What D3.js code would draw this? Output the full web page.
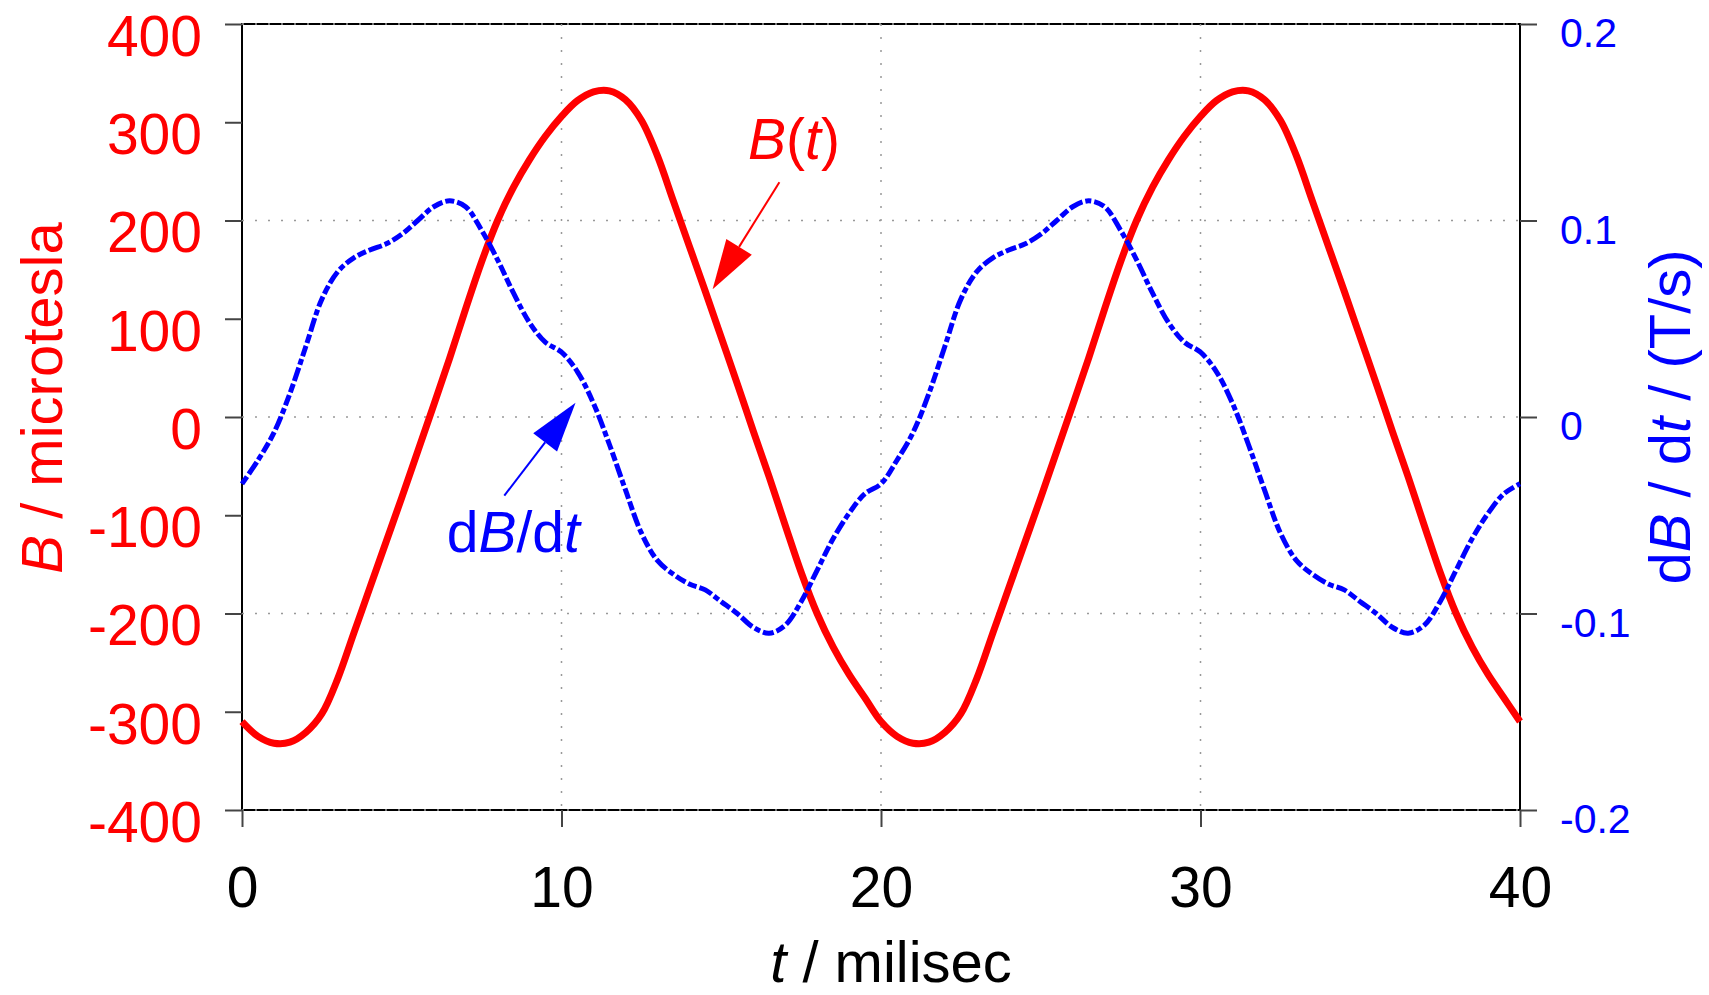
<!DOCTYPE html>
<html>
<head>
<meta charset="utf-8">
<script src="https://cdn.jsdelivr.net/npm/d3@7"></script>
<style>
body { margin: 0; background: #fff; }
text { font-family: "Liberation Sans", Arial, Helvetica, sans-serif; }
</style>
</head>
<body>
<script>
var width = 1709;
var height = 995;

var padding = { top: 24, right: 189, bottom: 185, left: 242 };
var plotW = width - padding.left - padding.right;
var plotH = height - padding.top - padding.bottom;

// time in milliseconds
var time = [
    0, 0.5, 1, 1.5, 2, 2.5, 3, 3.5, 4, 4.5, 5, 5.5, 6, 6.5, 7, 7.5, 8, 8.5, 9, 9.5,
    10, 10.5, 11, 11.5, 12, 12.5, 13, 13.5, 14, 14.5, 15, 15.5, 16, 16.5, 17, 17.5, 18, 18.5, 19, 19.5,
    20, 20.5, 21, 21.5, 22, 22.5, 23, 23.5, 24, 24.5, 25, 25.5, 26, 26.5, 27, 27.5, 28, 28.5, 29, 29.5,
    30, 30.5, 31, 31.5, 32, 32.5, 33, 33.5, 34, 34.5, 35, 35.5, 36, 36.5, 37, 37.5, 38, 38.5, 39, 39.5,
    40
];

// B(t) in microtesla
var fieldB = [
    -310, -325, -332, -331, -321, -302, -266, -220, -174, -128, -82, -35, 12, 60, 110, 158, 200, 234, 262, 286,
    306, 322, 331, 332, 323, 302, 266, 220, 174, 128, 81, 34, -14, -61, -110, -158, -200, -234, -262, -286,
    -310, -325, -332, -331, -321, -302, -266, -220, -174, -128, -82, -35, 12, 60, 110, 158, 200, 234, 262, 286,
    306, 322, 331, 332, 323, 302, 266, 220, 174, 128, 81, 34, -14, -61, -110, -158, -200, -234, -262, -286,
    -310
];

// dB/dt in T/s
var dBdt = [
    -0.034, -0.022, -0.008, 0.012, 0.036, 0.060, 0.074, 0.081, 0.085, 0.088, 0.093, 0.100, 0.107, 0.110, 0.107, 0.095, 0.080, 0.063, 0.048, 0.038,
    0.033, 0.023, 0.007, -0.014, -0.037, -0.059, -0.073, -0.080, -0.085, -0.088, -0.094, -0.100, -0.107, -0.110, -0.106, -0.094, -0.078, -0.062, -0.049, -0.039,
    -0.034, -0.022, -0.008, 0.012, 0.036, 0.060, 0.074, 0.081, 0.085, 0.088, 0.093, 0.100, 0.107, 0.110, 0.107, 0.095, 0.080, 0.063, 0.048, 0.038,
    0.033, 0.023, 0.007, -0.014, -0.037, -0.059, -0.073, -0.080, -0.085, -0.088, -0.094, -0.100, -0.107, -0.110, -0.106, -0.094, -0.078, -0.062, -0.049, -0.039,
    -0.034
];

var tTicks = [0, 10, 20, 30, 40];
var bTicks = [400, 300, 200, 100, 0, -100, -200, -300, -400];
var dTicks = [0.2, 0.1, 0, -0.1, -0.2];

var xScale = d3.scaleLinear().domain([0, 40]).range([0, plotW]);
var yScale = d3.scaleLinear().domain([-400, 400]).range([plotH, 0]);
var y2Scale = d3.scaleLinear().domain([-0.2, 0.2]).range([plotH, 0]);

var svg = d3.select('body')
    .append('svg')
    .attr('width', width)
    .attr('height', height);

var g = svg.append('g')
    .attr('transform', 'translate(' + padding.left + ',' + padding.top + ')');

// frame
g.append('rect')
    .attr('width', plotW)
    .attr('height', plotH)
    .attr('fill', 'none')
    .attr('stroke', '#000')
    .attr('stroke-width', 2);

// dotted grid
g.append('g').selectAll('line')
    .data(dTicks)
    .enter()
    .append('line')
    .attr('x1', 0)
    .attr('x2', plotW)
    .attr('y1', function(d) { return y2Scale(d); })
    .attr('y2', function(d) { return y2Scale(d); })
    .attr('stroke', '#999')
    .attr('stroke-width', 1.5)
    .attr('stroke-dasharray', '2,11');

g.append('g').selectAll('line')
    .data([10, 20, 30])
    .enter()
    .append('line')
    .attr('x1', function(d) { return xScale(d); })
    .attr('x2', function(d) { return xScale(d); })
    .attr('y1', 0)
    .attr('y2', plotH)
    .attr('stroke', '#999')
    .attr('stroke-width', 1.5)
    .attr('stroke-dasharray', '2,11');

function styleAxis(sel, color, size, dy) {
    sel.select('.domain').remove();
    sel.selectAll('.tick line').attr('stroke', '#444').attr('stroke-width', 2);
    sel.selectAll('.tick text')
        .attr('fill', color)
        .attr('font-size', size)
        .attr('font-family', '"Liberation Sans", Arial, sans-serif')
        .attr('dy', dy);
}

var leftAxis = d3.axisLeft(yScale)
    .tickValues(bTicks)
    .tickFormat(function(d) { return String(d); })
    .tickSize(17)
    .tickSizeOuter(0)
    .tickPadding(23);

g.append('g')
    .attr('class', 'axis')
    .call(leftAxis)
    .call(styleAxis, '#ff0000', 57, '0.55em');

var rightAxis = d3.axisRight(y2Scale)
    .tickValues(dTicks)
    .tickFormat(function(d) { return String(d); })
    .tickSize(17)
    .tickSizeOuter(0)
    .tickPadding(23);

g.append('g')
    .attr('class', 'axis')
    .attr('transform', 'translate(' + plotW + ',0)')
    .call(rightAxis)
    .call(styleAxis, '#0000ff', 41, '0.55em');

var bottomAxis = d3.axisBottom(xScale)
    .tickValues(tTicks)
    .tickFormat(function(d) { return String(d); })
    .tickSize(17)
    .tickSizeOuter(0)
    .tickPadding(40);

g.append('g')
    .attr('class', 'axis')
    .attr('transform', 'translate(0,' + plotH + ')')
    .call(bottomAxis)
    .call(styleAxis, '#000', 57, '0.71em');

// curves
var lineB = d3.line()
    .x(function(d, i) { return xScale(time[i]); })
    .y(function(d) { return yScale(d); })
    .curve(d3.curveCatmullRom.alpha(0.5));

var lineD = d3.line()
    .x(function(d, i) { return xScale(time[i]); })
    .y(function(d) { return y2Scale(d); })
    .curve(d3.curveCatmullRom.alpha(0.5));

g.append('path')
    .attr('d', lineB(fieldB))
    .attr('fill', 'none')
    .attr('stroke', '#ff0000')
    .attr('stroke-width', 7)
    .attr('stroke-linejoin', 'round');

g.append('path')
    .attr('d', lineD(dBdt))
    .attr('fill', 'none')
    .attr('stroke', '#0000ff')
    .attr('stroke-width', 5)
    .attr('stroke-dasharray', '9,3,14,3,6,3,11,3');

// annotations: arrows given in data units (t, B)
function arrow(from, to, color) {
    var x0 = xScale(from[0]), y0 = yScale(from[1]);
    var x1 = xScale(to[0]), y1 = yScale(to[1]);
    var dx = x1 - x0, dy = y1 - y0;
    var len = Math.sqrt(dx * dx + dy * dy);
    var ux = dx / len, uy = dy / len;
    var L = 50, W = 15;
    var bx = x1 - L * ux, by = y1 - L * uy;
    g.append('line')
        .attr('x1', x0).attr('y1', y0)
        .attr('x2', bx).attr('y2', by)
        .attr('stroke', color)
        .attr('stroke-width', 2);
    g.append('polygon')
        .attr('points', [
            [x1, y1],
            [bx - W * uy, by + W * ux],
            [bx + W * uy, by - W * ux]
        ].join(' '))
        .attr('fill', color);
}

arrow([16.82, 239], [14.73, 130], '#ff0000');
arrow([8.21, -80], [10.44, 14.6], '#0000ff');

var labB = g.append('text')
    .attr('x', xScale(15.84))
    .attr('y', yScale(263))
    .attr('fill', '#ff0000')
    .attr('font-size', 57);
labB.append('tspan').attr('font-style', 'italic').text('B');
labB.append('tspan').text('(');
labB.append('tspan').attr('font-style', 'italic').text('t');
labB.append('tspan').text(')');

var labD = g.append('text')
    .attr('x', xScale(6.41))
    .attr('y', yScale(-137))
    .attr('fill', '#0000ff')
    .attr('font-size', 57);
labD.append('tspan').text('d');
labD.append('tspan').attr('font-style', 'italic').text('B');
labD.append('tspan').text('/d');
labD.append('tspan').attr('font-style', 'italic').text('t');

// axis titles
var xTitle = svg.append('text')
    .attr('x', 891)
    .attr('y', 982)
    .attr('text-anchor', 'middle')
    .attr('fill', '#000')
    .attr('font-size', 58);
xTitle.append('tspan').attr('font-style', 'italic').text('t');
xTitle.append('tspan').text(' / milisec');

var yTitle = svg.append('text')
    .attr('transform', 'translate(62,398) rotate(-90)')
    .attr('text-anchor', 'middle')
    .attr('fill', '#ff0000')
    .attr('font-size', 58);
yTitle.append('tspan').attr('font-style', 'italic').text('B');
yTitle.append('tspan').text(' / microtesla');

var y2Title = svg.append('text')
    .attr('transform', 'translate(1690,417) rotate(-90)')
    .attr('text-anchor', 'middle')
    .attr('fill', '#0000ff')
    .attr('font-size', 58);
y2Title.append('tspan').text('d');
y2Title.append('tspan').attr('font-style', 'italic').text('B');
y2Title.append('tspan').text(' / d');
y2Title.append('tspan').attr('font-style', 'italic').text('t');
y2Title.append('tspan').text(' / (T/s)');
</script>
</body>
</html>
